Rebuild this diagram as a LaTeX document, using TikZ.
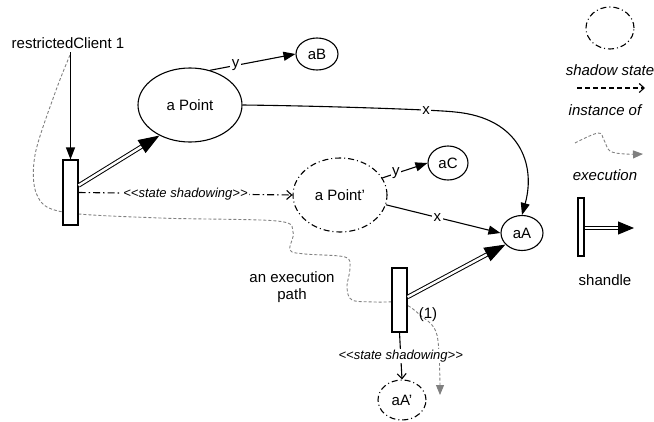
\documentclass[tikz,border=0pt]{standalone}
\usepackage{fontspec}
\setmainfont{Liberation Sans}
\usetikzlibrary{shapes.geometric,arrows.meta,calc}
\begin{document}
\begin{tikzpicture}[x=1pt,y=-1pt,
  every node/.style={font=\fontsize{15}{17}\selectfont},
  obj/.style={draw, ellipse, inner sep=0pt, line width=1.1pt},
  shadow/.style={obj, dash pattern=on 6pt off 3pt on 1pt off 3pt},
  shandlebox/.style={draw, rectangle, fill=white, inner sep=0pt, line width=1.1pt},
  link/.style={line width=1.1pt, -{Triangle[length=12pt,width=9pt]}},
  dbl/.style={double, double distance=2.4pt, line width=1pt, -{Triangle[length=21pt,width=15pt]}},
  inst/.style={line width=1.1pt, -{Straight Barb[length=5pt,width=9pt]}},
  dashdot/.style={dash pattern=on 7pt off 3pt on 1.5pt off 3pt},
  exec/.style={gray, line width=0.9pt, dash pattern=on 3pt off 2pt, -{Triangle[length=10pt,width=8pt]}},
  lbl/.style={fill=white, inner sep=1.5pt},
  stl/.style={fill=white, inner sep=1pt, font=\fontsize{13}{15}\selectfont\itshape},
  leg/.style={font=\fontsize{15}{17}\selectfont\itshape}]
\useasboundingbox (0,0) rectangle (654,421);

% execution path
\draw[exec] plot[smooth, tension=0.55] coordinates {(70,55) (55,93) (35,155) (37,195) (63,212) (160,218) (277,221) (293,232) (290,250) (305,254) (345,257) (350,268) (347,287) (352,300) (375,302) (402,303) (420,315) (437,335) (440,395)};

% nodes
\node (rc) at (68,43) {restrictedClient 1};
\node[obj, minimum width=104pt, minimum height=74pt] (pt) at (190,105) {a Point};
\node[obj, minimum width=42pt, minimum height=32pt] (aB) at (317,54) {aB};
\node[shadow, minimum width=94pt, minimum height=74pt] (ptp) at (340,195) {a Point'};
\node[obj, minimum width=40pt, minimum height=34pt] (aC) at (448,163) {aC};
\node[obj, minimum width=42pt, minimum height=35pt] (aA) at (522,233) {aA};
\node[shadow, minimum width=48pt, minimum height=40pt] (aAp) at (402,400) {aA'};
\node[shandlebox, minimum width=15pt, minimum height=65pt] (s1) at (70.5,192.5) {};
\node[shandlebox, minimum width=15pt, minimum height=64pt] (s2) at (399.5,300) {};
\node[align=center] (ep) at (292,287) {an execution\\path};
\node (one) at (428,315) {(1)};

% connectors
\draw[link] (rc.south -| s1.north) -- (s1.north);
\draw[dbl] ($(s1.east)+(0,-7)$) -- (pt.225);
\draw[inst, dashdot] (s1.east) -- node[stl]{<\kern0pt<state shadowing>\kern0pt>} (ptp.west);
\draw[link] (pt.60) -- node[lbl, pos=0.3]{y} (aB.west);
\draw[link] (pt.east) .. controls (330,106) and (440,110) .. node[lbl, pos=0.74]{x} (455,112) .. controls (520,118) and (536,165) .. (aA.north);
\draw[link] (ptp.22) -- node[lbl, pos=0.3]{y} (aC.west);
\draw[link] (ptp.-12) -- node[lbl, pos=0.45]{x} (aA.west);
\draw[dbl] ($(s2.east)+(0,-3)$) -- (aA.215);
\draw[inst] (s2.south) -- node[stl]{<\kern0pt<state shadowing>\kern0pt>} (aAp.north);

% legend
\node[shadow, minimum width=48pt, minimum height=42pt] (lss) at (610,28) {};
\node[leg] (tss) at (610,70) {shadow state};
\coordinate (li1) at (577,88);
\coordinate (li2) at (645,88);
\draw[inst, dash pattern=on 5pt off 3pt] (li1) -- (li2);
\node[leg] (tio) at (605,110) {instance of};
\draw[exec] plot[smooth, tension=0.6] coordinates {(575,143) (598,133) (604,140) (610,151) (625,154) (643,154)};
\node[leg] (tex) at (605,175) {execution};
\node[shandlebox, minimum width=6pt, minimum height=58pt] (ls) at (581,227) {};
\coordinate (lsend) at (634,228);
\draw[dbl, -{Triangle[length=16pt,width=13pt]}] (ls.east |- lsend) -- (lsend);
\node (tsh) at (605,280) {shandle};
\end{tikzpicture}
\end{document}
